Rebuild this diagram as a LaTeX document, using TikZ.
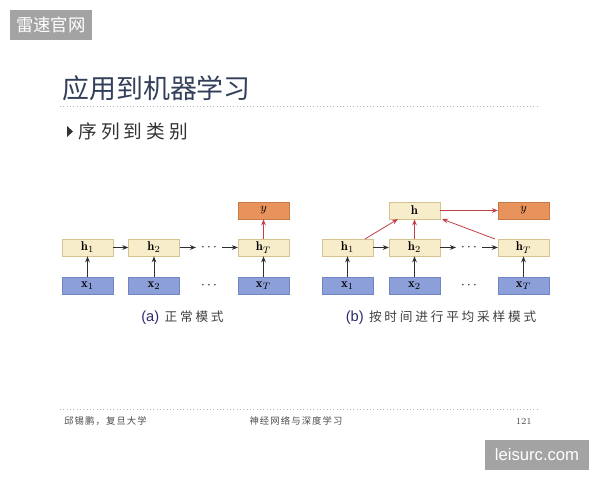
\documentclass[tikz,border=0pt]{standalone}
\usepackage{fontspec}
\newfontfamily\cjk{Noto Sans CJK SC}
\newfontfamily\cjkspaced[LetterSpace=22]{Noto Sans CJK SC}
\newfontfamily\cjkfoot[LetterSpace=12]{Noto Sans CJK SC}
\newfontfamily\arial{Liberation Sans}
\usetikzlibrary{arrows.meta}
\definecolor{hfill}{HTML}{F8EDCB}
\definecolor{hdraw}{HTML}{D6C28E}
\definecolor{xfill}{HTML}{8D9FD8}
\definecolor{xdraw}{HTML}{7384C2}
\definecolor{yfill}{HTML}{E8935C}
\definecolor{ydraw}{HTML}{C77A46}
\definecolor{redarr}{HTML}{C24048}
\definecolor{titlec}{HTML}{33405A}
\definecolor{capc}{HTML}{2B2B6E}
\definecolor{wm}{HTML}{A3A3A3}
\definecolor{arrc}{HTML}{2E2E2E}
\tikzset{
  cell/.style={draw, line width=0.5pt, minimum width=38pt, minimum height=12.75pt, inner sep=0pt, font=\fontsize{9.5}{10}\selectfont},
  hcell/.style={cell, fill=hfill, draw=hdraw},
  xcell/.style={cell, fill=xfill, draw=xdraw},
  ycell/.style={cell, fill=yfill, draw=ydraw},
  arr/.style={-{Stealth[length=4.5pt,width=3.5pt]}, draw=arrc, line width=0.7pt},
  rarr/.style={-{Stealth[length=4.5pt,width=3.5pt]}, draw=redarr, line width=0.6pt},
  dotline/.style={draw=gray!60, dotted, line width=0.5pt},
  dotsnode/.style={inner sep=0pt, font=\fontsize{10}{10}\selectfont},
}
\begin{document}
\begin{tikzpicture}[x=0.75pt,y=-0.75pt]
\useasboundingbox (0,0) rectangle (600,480);
\fill[white] (0,0) rectangle (600,480);

% watermark top-left
\node[fill=wm, minimum width=61.5pt, minimum height=22.5pt, inner sep=0pt, text=white, font=\cjk\fontsize{13}{14}\selectfont] (wmtop) at (51,25) {雷速官网};

% title
\node[anchor=west, inner sep=0pt, text=titlec, font=\cjk\fontsize{20.2}{22}\selectfont] (title) at (62,88) {应用到机器学习};
\draw[dotline] (60,106) -- (540,106);

% subtitle
\fill[black!80] (67,126) -- (73,131.5) -- (67,137) -- cycle;
\node[anchor=west, inner sep=0pt, text=black!80, font=\cjkspaced\fontsize{14}{16}\selectfont] (sub) at (78,131) {序列到类别};

% ---------- (a) ----------
\node[hcell] (h1a) at (87.5,247.5) {$\mathbf{h}_1$};
\node[hcell] (h2a) at (154,247.5) {$\mathbf{h}_2$};
\node[hcell] (hTa) at (263.5,247.5) {$\mathbf{h}_T$};
\node[ycell] (ya) at (263.5,210.5) {$y$};
\node[xcell] (x1a) at (87.5,285.5) {$\mathbf{x}_1$};
\node[xcell] (x2a) at (154,285.5) {$\mathbf{x}_2$};
\node[xcell] (xTa) at (263.5,285.5) {$\mathbf{x}_T$};
\node[dotsnode] (dha) at (209,247.5) {$\cdots$};
\node[dotsnode] (dxa) at (209,285.5) {$\cdots$};
\coordinate (a1) at (196,247.5);
\coordinate (a2) at (222,247.5);
\draw[arr] (h1a) -- (h2a);
\draw[arr] (h2a) -- (a1);
\draw[arr] (a2) -- (hTa);
\draw[arr] (x1a) -- (h1a);
\draw[arr] (x2a) -- (h2a);
\draw[arr] (xTa) -- (hTa);
\draw[rarr] (hTa) -- (ya);
\node[inner sep=0pt] (capa) at (182.5,318) {{\arial\fontsize{11}{12}\selectfont\color{capc}(a)}\hspace{4pt}{\cjkspaced\fontsize{9.5}{11}\selectfont\color{black!75}正常模式}};

% ---------- (b) ----------
\node[hcell] (h1b) at (347.5,247.5) {$\mathbf{h}_1$};
\node[hcell] (h2b) at (414.5,247.5) {$\mathbf{h}_2$};
\node[hcell] (hTb) at (523.5,247.5) {$\mathbf{h}_T$};
\node[hcell] (hb) at (414.5,210.5) {$\mathbf{h}$};
\node[ycell] (yb) at (523.5,210.5) {$y$};
\node[xcell] (x1b) at (347.5,285.5) {$\mathbf{x}_1$};
\node[xcell] (x2b) at (414.5,285.5) {$\mathbf{x}_2$};
\node[xcell] (xTb) at (523.5,285.5) {$\mathbf{x}_T$};
\node[dotsnode] (dhb) at (469,247.5) {$\cdots$};
\node[dotsnode] (dxb) at (469,285.5) {$\cdots$};
\coordinate (b1) at (456,247.5);
\coordinate (b2) at (482,247.5);
\draw[arr] (h1b) -- (h2b);
\draw[arr] (h2b) -- (b1);
\draw[arr] (b2) -- (hTb);
\draw[arr] (x1b) -- (h1b);
\draw[arr] (x2b) -- (h2b);
\draw[arr] (xTb) -- (hTb);
\coordinate (hbl) at (398,219);
\coordinate (hbr) at (442,219);
\coordinate (h1top) at (365,239);
\coordinate (hTtop) at (495,239);
\draw[rarr] (h1top) -- (hbl);
\draw[rarr] (h2b) -- (hb);
\draw[rarr] (hTtop) -- (hbr);
\draw[rarr] (hb) -- (yb);
\node[inner sep=0pt] (capb) at (441,318) {{\arial\fontsize{11}{12}\selectfont\color{capc}(b)}\hspace{4pt}{\cjkspaced\fontsize{9.5}{11}\selectfont\color{black!75}按时间进行平均采样模式}};

% footer
\draw[dotline] (60,409) -- (540,409);
\node[anchor=west, inner sep=0pt, text=black!70, font=\cjkfoot\fontsize{7}{8}\selectfont] (fl) at (64,421) {邱锡鹏，复旦大学};
\node[inner sep=0pt, text=black!70, font=\cjkfoot\fontsize{7}{8}\selectfont] (fc) at (296,421) {神经网络与深度学习};
\node[anchor=east, inner sep=0pt, text=black!70, font=\fontsize{7}{8}\selectfont] (fr) at (532,421) {121};

% watermark bottom-right
\node[fill=wm, minimum width=78pt, minimum height=22.5pt, inner sep=0pt, text=white, font=\arial\fontsize{12.5}{14}\selectfont] (wmbot) at (537,455) {leisurc.com};
\end{tikzpicture}
\end{document}
